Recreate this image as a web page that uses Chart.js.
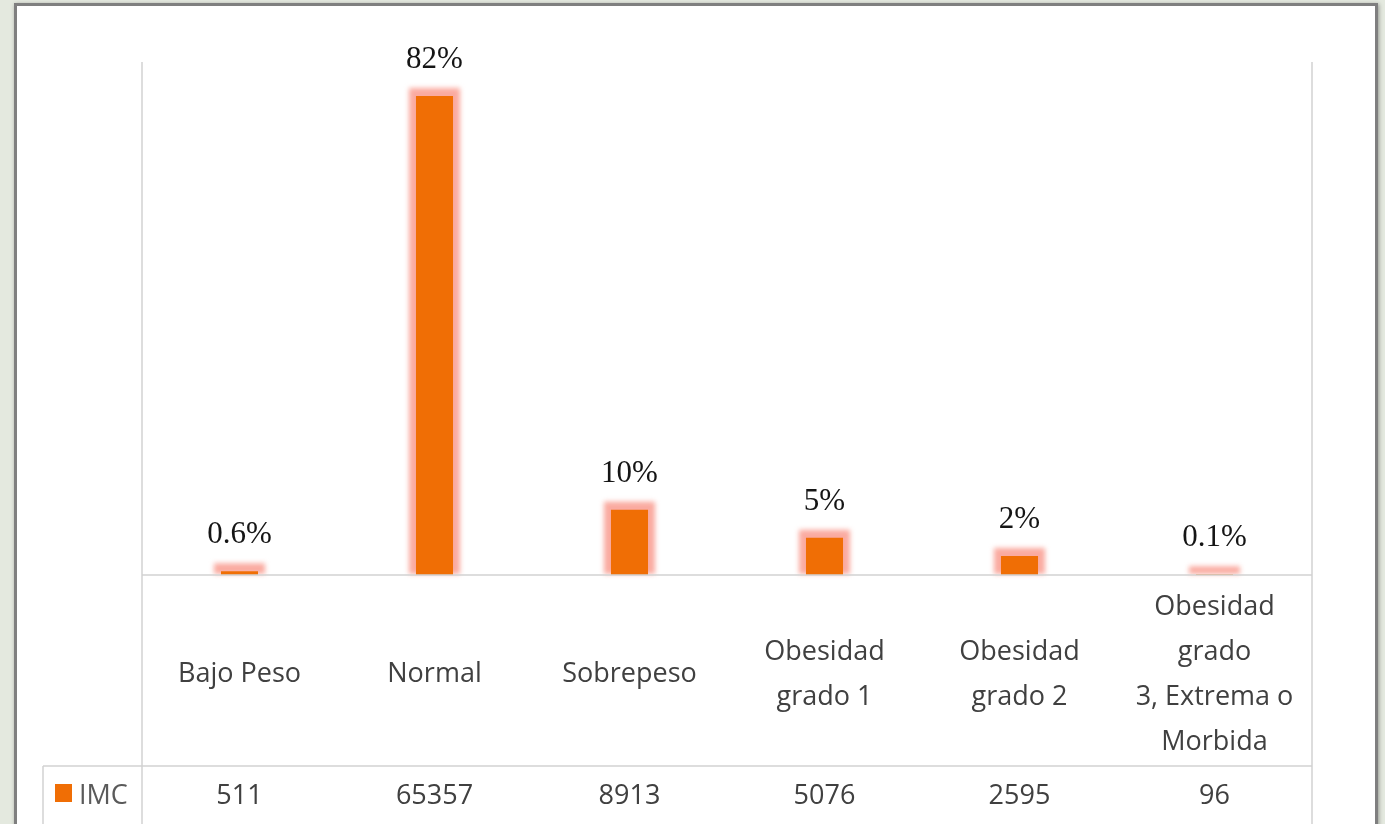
<!DOCTYPE html>
<html>
<head>
<meta charset="utf-8">
<script src="https://cdn.jsdelivr.net/npm/chart.js@4"></script>
<style>
  html, body { margin: 0; padding: 0; width: 1385px; height: 824px; overflow: hidden; background: #e4e9df; }
  #panel { position: absolute; left: 14px; top: 3px; width: 1358px; height: 900px; background: #ffffff;
           border: 3px solid #7f7f7f; box-shadow: 1px 1px 4px rgba(0,0,0,0.35); }
  #wrap { position: absolute; left: 0; top: 0; width: 1385px; height: 824px; }
</style>
</head>
<body>
<div id="panel"></div>
<div id="wrap"><canvas id="c" width="1385" height="824"></canvas></div>
<script>
const categories = [
  ["Bajo Peso"],
  ["Normal"],
  ["Sobrepeso"],
  ["Obesidad", "grado 1"],
  ["Obesidad", "grado 2"],
  ["Obesidad", "grado", "3, Extrema o", "Morbida"]
];
const seriesName = "IMC";
const imcValues = [511, 65357, 8913, 5076, 2595, 96];
const percentLabels = ["0.6%", "82%", "10%", "5%", "2%", "0.1%"];

const ORANGE = "#f06e05";
const GLOW = "rgba(250,165,155,0.95)";
const LINE = "#d2d2d2";
const TEXT = "#404040";

const glowPlugin = {
  id: "glow",
  beforeDatasetsDraw(chart) {
    const ctx = chart.ctx;
    const meta = chart.getDatasetMeta(0);
    ctx.save();
    ctx.filter = "blur(2.5px)";
    ctx.fillStyle = GLOW;
    meta.data.forEach(bar => {
      const p = bar.getProps(["x", "y", "base", "width"], true);
      const w = p.width + 14;
      ctx.fillRect(p.x - w / 2, p.y - 8, w, p.base - p.y + 7);
    });
    ctx.restore();
  },
  afterDatasetsDraw(chart) {
    const ctx = chart.ctx;
    const meta = chart.getDatasetMeta(0);
    ctx.save();
    ctx.font = "31px 'Liberation Serif', serif";
    ctx.fillStyle = "#151515";
    ctx.textAlign = "center";
    ctx.textBaseline = "alphabetic";
    meta.data.forEach((bar, i) => {
      const p = bar.getProps(["x", "y"], true);
      ctx.fillText(percentLabels[i], p.x, p.y - 28);
    });
    ctx.restore();
  }
};

const tablePlugin = {
  id: "dataTable",
  afterDraw(chart) {
    const ctx = chart.ctx;
    const ca = chart.chartArea;
    const xs = chart.scales.x;
    const rowTop = xs.bottom;
    const bottom = chart.height;
    const legendLeft = ca.left - 99;
    ctx.save();
    ctx.strokeStyle = LINE;
    ctx.lineWidth = 1.5;
    ctx.beginPath();
    ctx.moveTo(ca.left, ca.top); ctx.lineTo(ca.left, bottom);
    ctx.moveTo(ca.right, ca.top); ctx.lineTo(ca.right, bottom);
    ctx.moveTo(ca.left, ca.bottom); ctx.lineTo(ca.right, ca.bottom);
    ctx.moveTo(legendLeft, rowTop); ctx.lineTo(ca.right, rowTop);
    ctx.moveTo(legendLeft, rowTop); ctx.lineTo(legendLeft, bottom);
    ctx.stroke();

    const cy = rowTop + 30;
    ctx.fillStyle = ORANGE;
    ctx.fillRect(legendLeft + 12, cy - 12, 17, 18);
    ctx.font = "27px 'Open Sans', sans-serif";
    ctx.textBaseline = "middle";
    ctx.textAlign = "left";
    ctx.fillStyle = "#5a5a5a";
    ctx.fillText(seriesName, legendLeft + 36, cy);
    ctx.textAlign = "center";
    ctx.fillStyle = TEXT;
    imcValues.forEach((v, i) => {
      ctx.fillText(String(v), xs.getPixelForValue(i), cy);
    });
    ctx.restore();
  }
};

new Chart(document.getElementById("c"), {
  type: "bar",
  data: {
    labels: categories,
    datasets: [{
      label: seriesName,
      data: imcValues,
      backgroundColor: ORANGE,
      borderWidth: 0,
      barPercentage: 0.19,
      categoryPercentage: 1.0
    }]
  },
  options: {
    responsive: false,
    animation: false,
    events: [],
    layout: { padding: { left: 142, right: 73, top: 62, bottom: 58 } },
    plugins: { legend: { display: false }, tooltip: { enabled: false } },
    scales: {
      x: {
        grid: { display: false },
        border: { display: false },
        ticks: {
          color: TEXT,
          font: { family: "'Open Sans', sans-serif", size: 27, lineHeight: 1.667 },
          maxRotation: 0,
          minRotation: 0,
          autoSkip: false,
          crossAlign: "center",
          padding: 24
        },
        afterFit(scale) { scale.height = 191; }
      },
      y: {
        display: false,
        min: 0,
        max: 70000
      }
    }
  },
  plugins: [glowPlugin, tablePlugin]
});
</script>
</body>
</html>
